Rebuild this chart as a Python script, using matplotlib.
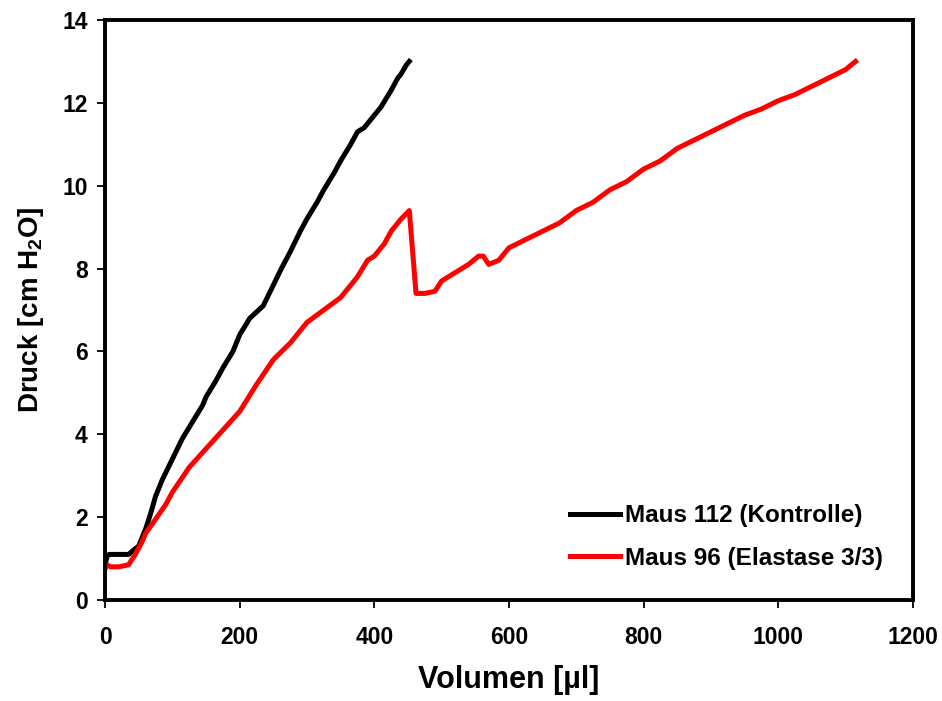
import matplotlib
matplotlib.use("Agg")
import matplotlib.pyplot as plt

plt.rcParams['font.family'] = ['Liberation Sans', 'DejaVu Sans']
plt.rcParams['mathtext.fontset'] = 'custom'
plt.rcParams['mathtext.bf'] = 'Liberation Sans:bold'

# Maus 112 (Kontrolle)
vol_ctrl = [0, 3, 6, 20, 35, 42, 50, 60, 68, 75, 85, 100, 115, 130, 145, 150, 165,
            175, 190, 200, 215, 225, 235, 250, 262, 275, 290, 300, 315, 325, 340,
            350, 365, 375, 385, 400, 410, 425, 435, 440, 447, 452]
p_ctrl = [0.85, 1.05, 1.1, 1.1, 1.1, 1.2, 1.3, 1.7, 2.1, 2.5, 2.9, 3.4, 3.9, 4.3,
          4.7, 4.9, 5.3, 5.6, 6.0, 6.4, 6.8, 6.95, 7.1, 7.6, 8.0, 8.4, 8.9, 9.2,
          9.6, 9.9, 10.3, 10.6, 11.0, 11.3, 11.4, 11.7, 11.9, 12.3, 12.6, 12.7,
          12.9, 13.0]

# Maus 96 (Elastase 3/3)
vol_ela = [0, 3, 8, 20, 35, 45, 55, 60, 75, 90, 100, 125, 150, 175, 200, 225, 250,
           275, 300, 325, 350, 375, 390, 400, 415, 425, 440, 452, 462, 475, 490,
           500, 520, 540, 555, 562, 570, 585, 600, 625, 650, 675, 700, 725, 750,
           775, 800, 825, 850, 875, 900, 925, 950, 975, 1000, 1025, 1050, 1075,
           1100, 1115]
p_ela = [0.75, 0.85, 0.8, 0.8, 0.85, 1.1, 1.4, 1.6, 1.95, 2.3, 2.6, 3.2, 3.65,
         4.1, 4.55, 5.2, 5.8, 6.2, 6.7, 7.0, 7.3, 7.8, 8.2, 8.3, 8.6, 8.9, 9.2,
         9.4, 7.4, 7.4, 7.45, 7.7, 7.9, 8.1, 8.3, 8.3, 8.1, 8.2, 8.5, 8.7, 8.9,
         9.1, 9.4, 9.6, 9.9, 10.1, 10.4, 10.6, 10.9, 11.1, 11.3, 11.5, 11.7,
         11.85, 12.05, 12.2, 12.4, 12.6, 12.8, 13.0]

fig = plt.figure(figsize=(9.42, 7.01), dpi=100)
ax = fig.add_axes([0.1115, 0.1441, 0.8575, 0.8274])

ax.plot(vol_ctrl, p_ctrl, color='black', lw=3.6, label='Maus 112 (Kontrolle)')
ax.plot(vol_ela, p_ela, color='#ff0000', lw=3.6, label='Maus 96 (Elastase 3/3)')

ax.set_xlim(0, 1200)
ax.set_ylim(0, 14)
ax.set_xticks(range(0, 1201, 200))
ax.set_yticks(range(0, 15, 2))
for s in ax.spines.values():
    s.set_linewidth(2.8)
ax.tick_params(direction='out', length=5.5, width=1.3, labelsize=16.5)
ax.tick_params(axis='x', pad=13)
ax.tick_params(axis='y', pad=7)
for lab in ax.get_xticklabels() + ax.get_yticklabels():
    lab.set_fontweight('bold')

ax.set_xlabel('Volumen [µl]', fontsize=22, fontweight='bold', labelpad=12)
ax.set_ylabel(r'Druck [cm H$_\mathbf{2}$O]', fontsize=20, fontweight='bold', labelpad=12)

leg = ax.legend(loc='center left', bbox_to_anchor=(0.5755, 0.1086), frameon=False,
                prop={'weight': 'bold', 'size': 17.5}, handlelength=2.06,
                handletextpad=0.22, labelspacing=0.8, borderpad=0,
                borderaxespad=0)

fig.savefig('out.png', dpi=100)
